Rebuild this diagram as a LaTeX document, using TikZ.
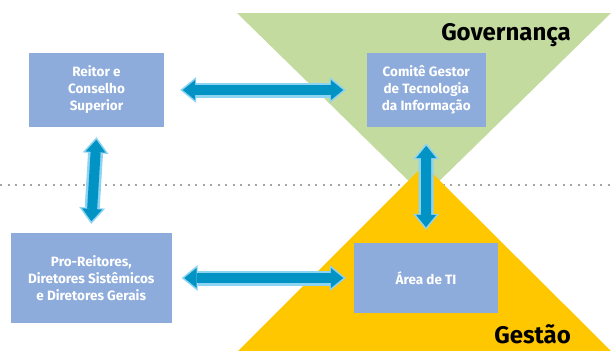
\documentclass[tikz,border=0pt]{standalone}
\usepackage{fontspec}
\setmainfont{Fira Sans}
\usetikzlibrary{arrows.meta}
\definecolor{govgreen}{RGB}{196,219,160}
\definecolor{gesyellow}{RGB}{255,199,0}
\definecolor{boxblue}{RGB}{142,172,219}
\definecolor{arrdark}{RGB}{0,147,196}
\definecolor{arrlight}{RGB}{141,211,242}
\definecolor{dotgray}{RGB}{165,165,165}
\tikzset{
  orgbox/.style={fill=boxblue, text=white, align=center, inner sep=0pt,
    font=\bfseries\fontsize{13.5}{17}\selectfont},
  arrout/.style={draw=arrlight, line width=15pt,
    arrows={Triangle[width=26pt 0,length=16pt 0,line width=0pt]-Triangle[width=26pt 0,length=16pt 0,line width=0pt]}},
  arrin/.style={draw=arrdark, line width=10pt, shorten <=2.6pt, shorten >=2.6pt,
    arrows={Triangle[width=20pt 0,length=12.3pt 0,line width=0pt]-Triangle[width=20pt 0,length=12.3pt 0,line width=0pt]}},
  title/.style={font=\bfseries\fontsize{24}{28}\selectfont, text=black, inner sep=0pt, anchor=base east},
  dotline/.style={draw=dotgray, line width=2pt, dash pattern=on 2pt off 5.5pt}
}
\newcommand{\dblarrow}[2]{%
  \draw[arrout] #1 -- #2;
  \draw[arrin] #1 -- #2;}
\begin{document}
\begin{tikzpicture}[x=1pt,y=-1pt]
\useasboundingbox (0,0) rectangle (611,351);
\draw[dotline] (0,185) -- (611,185);
\fill[govgreen] (237,13) -- (611,13) -- (424,196) -- cycle;
\fill[gesyellow] (424,165) -- (238,351) -- (611,351) -- cycle;
\node[title] (gov) at (571,40) {Governança};
\node[title] (ges) at (571,343.5) {Gestão};
\node[orgbox, minimum width=135pt, minimum height=74pt] (reitor) at (96.5,90) {Reitor e\\Conselho\\Superior};
\node[orgbox, minimum width=118.5pt, minimum height=74pt] (comite) at (426.25,90) {Comitê Gestor\\de Tecnologia\\da Informação};
\node[orgbox, minimum width=160.5pt, minimum height=90pt] (pro) at (91.25,278) {Pro-Reitores,\\Diretores Sistêmicos\\e Diretores Gerais};
\node[orgbox, minimum width=144pt, minimum height=70pt] (area) at (426,278) {Área de TI};
\dblarrow{([xshift=16pt]reitor.east)}{([xshift=-21pt]comite.west)}
\dblarrow{([xshift=10pt]pro.east)}{([xshift=-8pt]area.west)}
\dblarrow{([yshift=-10pt]reitor.south)}{([yshift=9pt]pro.north)}
\dblarrow{([yshift=-16pt]comite.south)}{([yshift=13pt]area.north)}
\end{tikzpicture}
\end{document}
